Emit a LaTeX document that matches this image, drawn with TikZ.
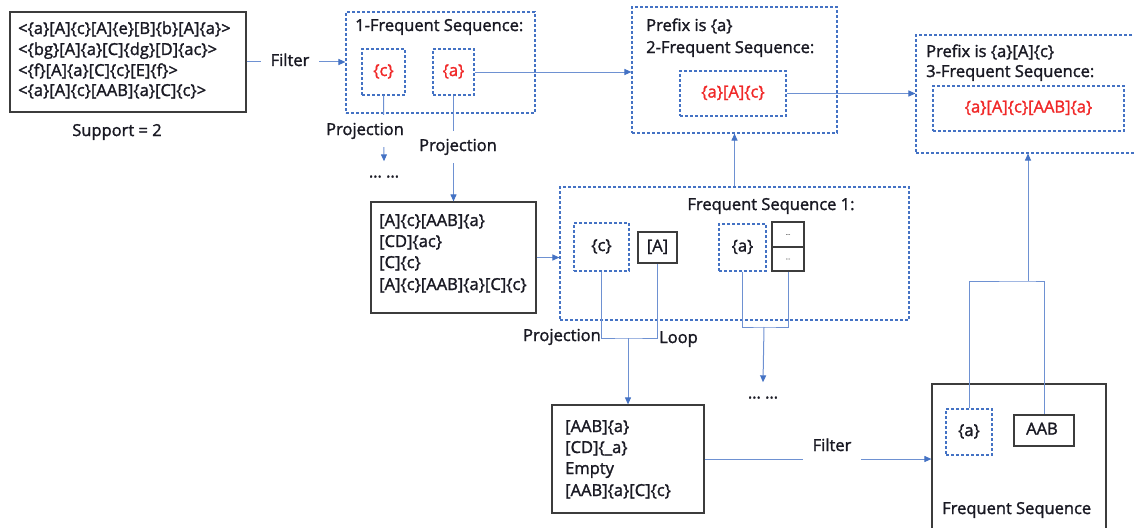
\documentclass[tikz,border=0pt]{standalone}
\usepackage{fontspec}
\setmainfont{Open Sans}[FakeBold=1.6]
\usetikzlibrary{arrows.meta,fit,calc}
\definecolor{dblue}{RGB}{68,114,196}
\definecolor{cline}{RGB}{110,145,210}
\definecolor{redt}{RGB}{240,40,40}
\definecolor{gbox}{RGB}{60,60,60}
\definecolor{tcol}{RGB}{25,25,35}
\tikzset{
  dbox/.style={draw=dblue, dash pattern=on 3pt off 2pt, line width=1.1pt, inner sep=0pt},
  bbox/.style={draw=gbox, line width=1.2pt, inner sep=0pt},
  txt/.style={font=\fontsize{16.5}{20}\selectfont, text=tcol, inner sep=0pt, text height=12pt, text depth=4pt},
  rtxt/.style={txt, text=redt},
  conn/.style={draw=cline, line width=1pt},
  arr/.style={conn, -{Triangle[length=7pt,width=6pt,color=dblue]}},
  lbl/.style={txt, fill=white, inner xsep=10pt, inner ysep=8pt},
  dotsn/.style={txt, text height=3pt, text depth=0pt, inner ysep=13pt},
  tinyd/.style={font=\fontsize{6}{6}\selectfont, text=gray, inner sep=0pt},
}
\begin{document}
\begin{tikzpicture}[x=1pt,y=-1pt]
\path[use as bounding box] (0,0) rectangle (1134,527);
\clip (0,0) rectangle (1134,527);

% input database
\node[bbox, fit={(10,12)(246,112)}] (inp) {};
\node[txt, anchor=west] (inp1) at (18,30) {<\{a\}[A]\{c\}[A]\{e\}[B]\{b\}[A]\{a\}>};
\node[txt, anchor=west] (inp2) at (18,51) {<\{bg\}[A]\{a\}[C]\{dg\}[D]\{ac\}>};
\node[txt, anchor=west] (inp3) at (18,72) {<\{f\}[A]\{a\}[C]\{c\}[E]\{f\}>};
\node[txt, anchor=west] (inp4) at (18,92) {<\{a\}[A]\{c\}[AAB]\{a\}[C]\{c\}>};
\node[txt] (sup) at (117,132) {Support = 2};

% 1-frequent sequence
\node[dbox, fit={(346,12)(535,113)}] (fs1) {};
\node[txt, anchor=west] (fs1t) at (355,27) {1-Frequent Sequence:};
\node[dbox, fit={(362,49)(405,95)}] (c1) {};
\node[rtxt] (c1t) at (c1) {\{c\}};
\node[dbox, fit={(433,49)(474,95)}] (a1) {};
\node[rtxt] (a1t) at (a1) {\{a\}};

% 2-frequent
\node[dbox, fit={(632,7)(837,133)}] (fs2) {};
\node[txt, anchor=west] (fs2a) at (646,27) {Prefix is \{a\}};
\node[txt, anchor=west] (fs2b) at (646,49) {2-Frequent Sequence:};
\node[dbox, fit={(680,71)(786,116)}] (in2) {};
\node[rtxt] (in2t) at (in2) {\{a\}[A]\{c\}};

% 3-frequent
\node[dbox, fit={(916,35)(1145,153)}] (fs3) {};
\node[txt, anchor=west] (fs3a) at (926,53) {Prefix is \{a\}[A]\{c\}};
\node[txt, anchor=west] (fs3b) at (926,73) {3-Frequent Sequence:};
\node[dbox, fit={(933,86)(1124,131)}] (in3) {};
\node[rtxt] (in3t) at (in3) {\{a\}[A]\{c\}[AAB]\{a\}};

% projected database of {a}
\node[bbox, fit={(371,202)(536,313)}] (mid) {};
\node[txt, anchor=west] (mid1) at (379,222) {[A]\{c\}[AAB]\{a\}};
\node[txt, anchor=west] (mid2) at (379,243) {[CD]\{ac\}};
\node[txt, anchor=west] (mid3) at (379,264) {[C]\{c\}};
\node[txt, anchor=west] (mid4) at (379,286) {[A]\{c\}[AAB]\{a\}[C]\{c\}};

% frequent sequence 1
\node[dbox, fit={(560,187)(909,320)}] (fsb) {};
\node[txt] (fsbt) at (771,206) {Frequent Sequence 1:};
\node[dbox, fit={(574,223)(629,271)}] (c2) {};
\node[txt] (c2t) at (c2) {\{c\}};
\node[bbox, fit={(638,232)(677,263)}] (A2) {};
\node[txt] (A2t) at (A2) {[A]};
\node[dbox, fit={(719,224)(766,271)}] (a2) {};
\node[txt] (a2t) at (a2) {\{a\}};
\node[bbox, fit={(772,222)(804,247)}] (sp1) {};
\node[bbox, fit={(772,247)(804,271)}] (sp2) {};
\node[tinyd] (sp1t) at (sp1) {...};
\node[tinyd] (sp2t) at (sp2) {...};

% second projected database
\node[bbox, fit={(552,405)(704,513)}] (bot) {};
\node[txt, anchor=west] (bot1) at (565,428) {[AAB]\{a\}};
\node[txt, anchor=west] (bot2) at (565,449) {[CD]\{\_a\}};
\node[txt, anchor=west] (bot3) at (565,470) {Empty};
\node[txt, anchor=west] (bot4) at (565,492) {[AAB]\{a\}[C]\{c\}};

% final frequent sequence
\node[bbox, fit={(932,384)(1106,545)}] (fsq) {};
\node[dbox, fit={(946,409)(992,455)}] (a3) {};
\node[txt] (a3t) at (a3) {\{a\}};
\node[bbox, fit={(1014,415)(1074,446)}] (aab) {};
\node[txt] (aabt) at ([xshift=-2pt]aab.center) {AAB};
\node[txt, anchor=west] (fsqt) at (942,510) {Frequent Sequence};

% dots
\node[dotsn] (dots1) at (384,176) {… …};
\node[dotsn] (dots2) at (763,397) {… …};

% junctions
\coordinate (j1) at (628,338);
\coordinate (j2) at (764,327);
\coordinate (j3) at (1028,281);

% connectors
\draw[arr] (inp.east) -- (inp.east -| fs1.west);
\node[lbl] (filt1) at (290,62) {Filter};

\draw[arr] (a1.east) -- (a1.east -| fs2.west);

\draw[arr] (c1.south) -- (dots1.north);
\node[lbl] (proj1) at (365,131) {Projection};

\draw[arr] (a1.south) -- (a1.south |- mid.north);
\node[lbl] (proj2) at (458,147) {Projection};

\draw[arr] (mid.east) -- (mid.east -| fsb.west);
\draw[arr] (fs2.south |- fsb.north) -- (fs2.south);
\draw[arr] (in2.east) -- (in2.east -| fs3.west);

\draw[conn] (c2.south) |- (j1) -| (A2.south);
\draw[arr] (j1) -- (j1 |- bot.north);
\node[txt, anchor=east] (projl) at (601,337) {Projection};
\node[txt, anchor=west] (loopl) at (659,339) {Loop};

\draw[conn] (a2.south) |- (j2) -| (sp2.south);
\draw[arr] (j2) -- (dots2.north);

\draw[arr] (bot.east) -- (bot.east -| fsq.west);
\node[lbl] (filt2) at (832,447) {Filter};

\draw[conn] (a3.north) |- (j3) -| (aab.north);
\draw[arr] (j3) -- (j3 |- fs3.south);
\end{tikzpicture}
\end{document}
